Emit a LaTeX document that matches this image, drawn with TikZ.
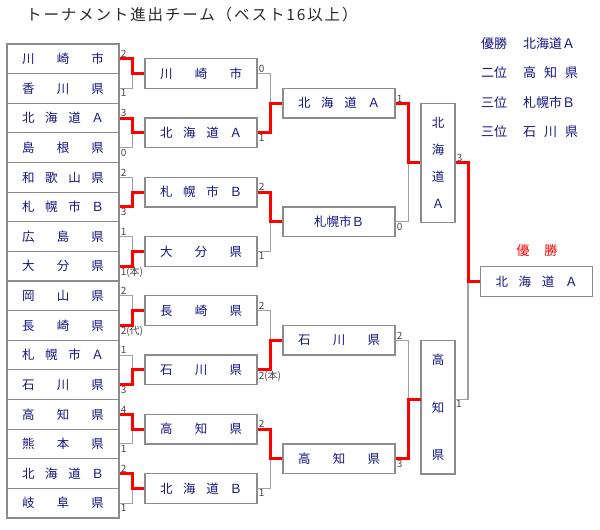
\documentclass[tikz,border=0pt]{standalone}
\usepackage{fontspec}
\newfontfamily\cjk{Noto Sans CJK JP}
\newfontfamily\titlecjk[LetterSpace=12]{Noto Sans CJK JP}
\definecolor{teamblue}{RGB}{20,20,130}
\definecolor{boxgray}{RGB}{140,140,140}
\definecolor{linegray}{RGB}{160,160,160}
\definecolor{scoregray}{RGB}{70,70,70}
\definecolor{titlegray}{RGB}{40,40,40}
\tikzset{
  team-box/.style={
    draw=boxgray,
    line width=1.2pt,
    minimum width=112pt,
    minimum height=29.6pt,
    inner sep=0pt,
    text=teamblue,
    font=\cjk\fontsize{12.5}{15}\selectfont
  },
  team-vbox/.style={team-box, minimum width=34pt},
  lose-line/.style={draw=linegray, line width=1.1pt},
  win-line/.style={draw=red, line width=3pt},
  score/.style={inner sep=1pt, text=scoregray, font=\cjk\fontsize{10}{11}\selectfont},
  score-up/.style={score, anchor=south west},
  score-down/.style={score, anchor=north west},
  legend/.style={anchor=west, inner sep=0pt, text=teamblue, font=\cjk\fontsize{13}{15}\selectfont}
}
% name spread over the box
\newcommand{\spread}[1]{\makebox[82pt][s]{\ignorespaces#1\unskip}}
% one match: top, bottom, next box, winner, scores
\newcommand{\bout}[6]{
  \draw[lose-line] (#1.east) -- ++(13,0) |- (#3.west);
  \draw[lose-line] (#2.east) -- ++(13,0) |- (#3.west);
  \draw[win-line] (#4.east) -- ++(13,0) |- (#3.west);
  \node[score-up] (#1-score) at (#1.east) {#5};
  \node[score-down] (#2-score) at (#2.east) {#6};
}

\begin{document}
\begin{tikzpicture}[x=1pt, y=-1pt]
  \useasboundingbox (0,0) rectangle (600,530);
  \node[anchor=west, inner sep=0pt, text=titlegray, font=\titlecjk\fontsize{15.5}{17}\selectfont]
    (title) at (26,15) {トーナメント進出チーム（ベスト16以上）};
  % first round
  \foreach \team [count=\i] in {川 崎 市,香 川 県,北 海 道 Ａ,島 根 県,和 歌 山 県,札 幌 市 Ｂ,広 島 県,大 分 県,岡 山 県,長 崎 県,札 幌 市 Ａ,石 川 県,高 知 県,熊 本 県,北 海 道 Ｂ,岐 阜 県}
    \node[team-box] (L\i) at (63,{58.8+29.625*(\i-1)}) {\spread{\team}};
  % best 8
  \foreach \team [count=\j] in {川 崎 市,北 海 道 Ａ,札 幌 市 Ｂ,大 分 県,長 崎 県,石 川 県,高 知 県,北 海 道 Ｂ}
    \node[team-box] (R\j) at (201,{73.6+59.25*(\j-1)}) {\spread{\team}};
  % best 4
  \node[team-box] (Q1) at (339,103.2) {\spread{北 海 道 Ａ}};
  \node[team-box] (Q2) at (339,221.7) {札幌市Ｂ};
  \node[team-box] (Q3) at (339,340.2) {\spread{石 川 県}};
  \node[team-box] (Q4) at (339,458.7) {\spread{高 知 県}};
  % semi final
  \node[team-vbox, minimum height=119pt] (S1) at (438,162.75)
    {\parbox[c][92pt][s]{14pt}{\centering 北\par\vfill 海\par\vfill 道\par\vfill Ａ}};
  \node[team-vbox, minimum height=133.3pt] (S2) at (438,407.3)
    {\parbox[c][106pt][s]{14pt}{\centering 高\par\vfill 知\par\vfill 県}};
  \coordinate (S2-in) at (421,399.5);
  \coordinate (S2-out) at (455,399.5);
  % champion
  \node[team-box, minimum height=29.4pt] (F) at (536.5,281.4) {\spread{北 海 道 Ａ}};
  \node[legend, anchor=center, text=red] (F-label) at (537,251) {\makebox[41pt][s]{優 勝}};
  % results
  \foreach \place/\team [count=\k] in {優勝/北海道Ａ,二位/高 知 県,三位/札幌市Ｂ,三位/石 川 県} {
    \node[legend] (place\k) at (481,{43.5+29.4*(\k-1)}) {\place};
    \node[legend] (winner\k) at (523,{43.5+29.4*(\k-1)}) {\makebox[55pt][s]{\ignorespaces\team\unskip}};
  }
  % lines
  \bout{L1}{L2}{R1}{L1}{2}{1}
  \bout{L3}{L4}{R2}{L3}{3}{0}
  \bout{L5}{L6}{R3}{L6}{2}{3}
  \bout{L7}{L8}{R4}{L8}{1}{1(本)}
  \bout{L9}{L10}{R5}{L10}{2}{2(代)}
  \bout{L11}{L12}{R6}{L12}{1}{3}
  \bout{L13}{L14}{R7}{L13}{4}{1}
  \bout{L15}{L16}{R8}{L15}{2}{1}
  \bout{R1}{R2}{Q1}{R2}{0}{1}
  \bout{R3}{R4}{Q2}{R3}{2}{1}
  \bout{R5}{R6}{Q3}{R6}{2}{2(本)}
  \bout{R7}{R8}{Q4}{R7}{2}{1}
  \bout{Q1}{Q2}{S1}{Q1}{1}{0}
  \draw[lose-line] (Q3.east) -- ++(13,0) |- (S2-in);
  \draw[lose-line] (Q4.east) -- ++(13,0) |- (S2-in);
  \draw[win-line] (Q4.east) -- ++(13,0) |- (S2-in);
  \node[score-up] (Q3-score) at (Q3.east) {2};
  \node[score-down] (Q4-score) at (Q4.east) {3};
  \draw[lose-line] (S1.east) -- ++(13,0) |- (F.west);
  \draw[lose-line] (S2-out) -- ++(13,0) |- (F.west);
  \draw[win-line] (S1.east) -- ++(13,0) |- (F.west);
  \node[score-up] (S1-score) at (S1.east) {3};
  \node[score-down] (S2-score) at (S2-out) {1};
\end{tikzpicture}
\end{document}
